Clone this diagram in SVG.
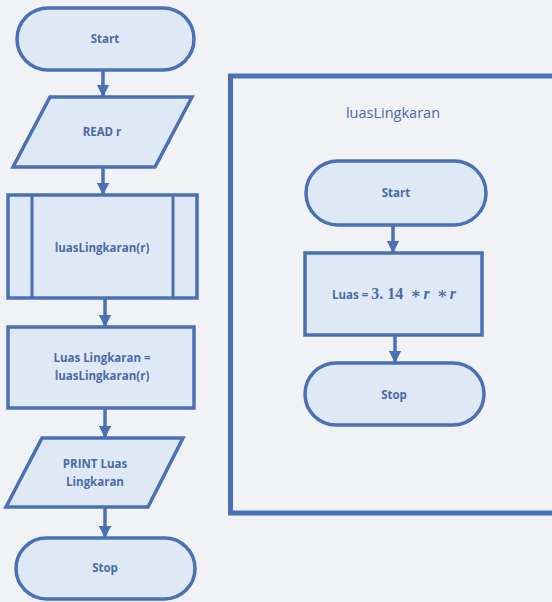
<svg xmlns="http://www.w3.org/2000/svg" width="552" height="602" viewBox="0 0 552 602">
  <defs>
    <marker id="arrow" viewBox="0 0 10 10" refX="9" refY="5" markerWidth="3.6" markerHeight="3.6" orient="auto" markerUnits="strokeWidth">
      <path d="M0,0 L10,5 L0,10 Z" fill="#4a70b5"/>
    </marker>
  </defs>
  <style>
    .shape { fill: #dfe8f5; stroke: #4a70b5; stroke-width: 3.5; }
    .line { fill: none; stroke: #4a70b5; stroke-width: 3; }
    .conn { fill: none; stroke: #4a70b5; stroke-width: 3.5; marker-end: url(#arrow); }
    .label { font-family: "Open Sans", "Liberation Sans", sans-serif; font-size: 11.5px; font-weight: bold; fill: #4a6aa8; text-anchor: middle; }
    .title { font-family: "Open Sans", "Liberation Sans", sans-serif; font-size: 14.5px; fill: #4a6aa8; text-anchor: middle; }
    .math { font-family: "Liberation Serif", "DejaVu Serif", serif; font-size: 16px; font-weight: bold; }
  </style>
  <rect width="552" height="602" fill="#f0f2f5"/>

  <!-- main flow -->
  <g id="start-main">
    <rect class="shape" x="17" y="8" width="177" height="62" rx="31"/>
    <text class="label" x="105" y="43">Start</text>
  </g>
  <g id="read-r">
    <polygon class="shape" points="50,97 192,97 155,167 13,167"/>
    <text class="label" x="102" y="136">READ r</text>
  </g>
  <g id="call-luas">
    <rect class="shape" x="8" y="195" width="189" height="103"/>
    <line class="line" x1="32" y1="195" x2="32" y2="298"/>
    <line class="line" x1="173" y1="195" x2="173" y2="298"/>
    <text class="label" x="102" y="252">luasLingkaran(r)</text>
  </g>
  <g id="assign-luas">
    <rect class="shape" x="8" y="327" width="186" height="81"/>
    <text class="label" x="102" y="362">Luas Lingkaran =</text>
    <text class="label" x="102" y="380">luasLingkaran(r)</text>
  </g>
  <g id="print-luas">
    <polygon class="shape" points="42,438 183,438 148,507 6,507"/>
    <text class="label" x="95" y="468">PRINT Luas</text>
    <text class="label" x="95" y="486">Lingkaran</text>
  </g>
  <g id="stop-main">
    <rect class="shape" x="16" y="538" width="179" height="61" rx="30.5"/>
    <text class="label" x="105" y="572">Stop</text>
  </g>

  <!-- subroutine frame -->
  <g id="frame-luasLingkaran">
    <rect x="230.5" y="76" width="340" height="437" fill="none" stroke="#4a70b5" stroke-width="5"/>
    <text class="title" x="393" y="118">luasLingkaran</text>
  </g>
  <g id="start-sub">
    <rect class="shape" x="306" y="161" width="180" height="64" rx="32"/>
    <text class="label" x="396" y="197">Start</text>
  </g>
  <g id="calc-luas">
    <rect class="shape" x="305" y="253" width="177" height="82"/>
    <text class="label" x="394" y="299">Luas = <tspan class="math">3. 14</tspan><tspan class="math" font-style="italic" font-weight="normal" dx="7">∗</tspan><tspan class="math" font-style="italic" font-weight="normal" dx="2">r</tspan><tspan class="math" font-style="italic" font-weight="normal" dx="7">∗</tspan><tspan class="math" font-style="italic" font-weight="normal" dx="2">r</tspan></text>
  </g>
  <g id="stop-sub">
    <rect class="shape" x="305" y="363" width="179" height="62" rx="31"/>
    <text class="label" x="394" y="399">Stop</text>
  </g>

  <!-- connectors -->
  <g id="connectors">
    <line class="conn" x1="103" y1="70" x2="103" y2="96"/>
    <line class="conn" x1="103" y1="167" x2="103" y2="194"/>
    <line class="conn" x1="105" y1="298" x2="105" y2="326"/>
    <line class="conn" x1="105" y1="408" x2="105" y2="437"/>
    <line class="conn" x1="105" y1="507" x2="105" y2="537"/>
    <line class="conn" x1="393" y1="225" x2="393" y2="252"/>
    <line class="conn" x1="395" y1="335" x2="395" y2="362"/>
  </g>
</svg>
